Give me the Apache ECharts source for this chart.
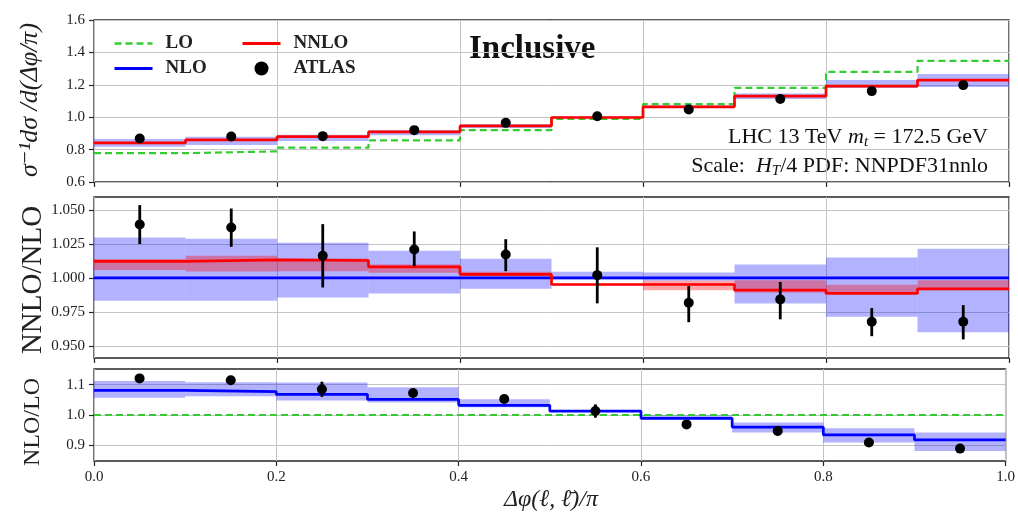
<!DOCTYPE html>
<html><head><meta charset="utf-8">
<script src="https://cdn.jsdelivr.net/npm/echarts@6/dist/echarts.min.js"></script>
<style>html,body{margin:0;padding:0;background:#fff}#c{width:1018px;height:515px}</style>
</head><body><div id="c"></div>
<script>
// ---- data ----
const edges = [0.0, 0.1, 0.2, 0.3, 0.4, 0.5, 0.6, 0.7, 0.8, 0.9, 1.0];
const centers = [0.05, 0.15, 0.25, 0.35, 0.45, 0.55, 0.65, 0.75, 0.85, 0.95];
const xTicks = [0.0, 0.2, 0.4, 0.6, 0.8, 1.0];

// top panel: normalised distribution
const loTop      = [0.778, 0.789, 0.812, 0.857, 0.920, 0.990, 1.081, 1.181, 1.280, 1.348];
const nnloTop    = [0.841, 0.860, 0.880, 0.909, 0.946, 0.998, 1.064, 1.130, 1.192, 1.229];
const nloTopLo   = [0.817, 0.829, 0.853, 0.889, 0.933, 0.995, 1.060, 1.112, 1.180, 1.186];
const nloTopHi   = [0.866, 0.880, 0.892, 0.921, 0.957, 1.006, 1.072, 1.146, 1.230, 1.266];
const atlasTop   = [0.868, 0.881, 0.883, 0.920, 0.965, 1.006, 1.048, 1.113, 1.161, 1.198];
const atlasTopErr= [0.012, 0.012, 0.020, 0.012, 0.011, 0.020, 0.013, 0.015, 0.011, 0.015];
const topTicks   = [0.6, 0.8, 1.0, 1.2, 1.4, 1.6];

// middle panel: NNLO/NLO
const nloMid       = [1, 1, 1, 1, 1, 1, 1, 1, 1, 1];
const nloMidLo     = [0.9832, 0.9832, 0.9856, 0.9886, 0.9920, 0.9989, 0.9980, 0.9812, 0.9714, 0.9599];
const nloMidHi     = [1.0299, 1.0289, 1.0259, 1.0200, 1.0141, 1.0045, 1.0041, 1.0100, 1.0151, 1.0215];
const nnloMid      = [1.0122, 1.0134, 1.0129, 1.0082, 1.0026, 0.9952, 0.9952, 0.9910, 0.9886, 0.9920];
const nnloMidLo    = [1.0058, 1.0048, 1.0050, 1.0038, 1.0013, 0.9945, 0.9910, 0.9893, 0.9886, 0.9910];
const nnloMidHi    = [1.0139, 1.0163, 1.0144, 1.0100, 1.0045, 0.9960, 0.9979, 0.9984, 0.9950, 0.9984];
const atlasMid     = [1.0394, 1.0372, 1.0163, 1.0210, 1.0173, 1.0021, 0.9817, 0.9842, 0.9677, 0.9677];
const atlasMidLo   = [1.0250, 1.0230, 0.9930, 1.0087, 1.0050, 0.9813, 0.9674, 0.9695, 0.9571, 0.9547];
const atlasMidHi   = [1.0537, 1.0512, 1.0397, 1.0343, 1.0286, 1.0226, 0.9940, 0.9971, 0.9778, 0.9800];
const midTicks     = [0.950, 0.975, 1.000, 1.025, 1.050];

// bottom panel: NLO/LO
const loBot      = [1, 1, 1, 1, 1, 1, 1, 1, 1, 1];
const nloBot     = [1.0813, 1.0770, 1.0680, 1.0516, 1.0320, 1.0130, 0.9890, 0.9600, 0.9340, 0.9180];
const nloBotLo   = [1.057, 1.062, 1.048, 1.041, 1.026, 1.010, 0.986, 0.942, 0.909, 0.881];
const nloBotHi   = [1.112, 1.108, 1.107, 1.092, 1.052, 1.016, 0.999, 0.975, 0.956, 0.942];
const atlasBot   = [1.121, 1.115, 1.085, 1.0725, 1.053, 1.013, 0.969, 0.947, 0.909, 0.889];
const atlasBotErr= [0.014, 0.014, 0.025, 0.014, 0.013, 0.022, 0.014, 0.014, 0.011, 0.014];
const botTicks   = [0.9, 1.0, 1.1];

// ---- helpers ----
const F = '"Liberation Serif", "DejaVu Serif", serif';
const GREEN = '#33cc33', BLUE = '#0000ff', RED = '#ff0000';
const BLUEBAND = 'rgba(0,0,255,0.30)', REDBAND = 'rgba(255,0,0,0.35)';

function stepData(vals) {
  const d = vals.map((v, i) => [edges[i], v]);
  d.push([edges[edges.length - 1], vals[vals.length - 1]]);
  return d;
}
function bandData(lo, hi) { return lo.map((l, i) => [edges[i], edges[i + 1], l, hi[i]]); }
function errSym(c, e) { return c.map((v, i) => [centers[i], v - e[i], v + e[i]]); }
function errAsym(lo, hi) { return lo.map((l, i) => [centers[i], l, hi[i]]); }
function pts(vals) { return vals.map((v, i) => [centers[i], v]); }

function bandSeries(g, lo, hi, color, z) {
  return {
    type: 'custom', xAxisIndex: g, yAxisIndex: g, z: z, silent: true, clip: true,
    data: bandData(lo, hi),
    encode: { x: [0, 1], y: [2, 3] },
    renderItem: function (params, api) {
      const p0 = api.coord([api.value(0), api.value(3)]);
      const p1 = api.coord([api.value(1), api.value(2)]);
      return { type: 'rect', shape: { x: p0[0], y: p0[1], width: p1[0] - p0[0], height: p1[1] - p0[1] },
               style: { fill: color } };
    }
  };
}
function errSeries(g, data) {
  return {
    type: 'custom', xAxisIndex: g, yAxisIndex: g, z: 8, silent: true, clip: true,
    data: data, encode: { x: 0, y: [1, 2] },
    renderItem: function (params, api) {
      const a = api.coord([api.value(0), api.value(1)]);
      const b = api.coord([api.value(0), api.value(2)]);
      return { type: 'line', shape: { x1: a[0], y1: a[1], x2: b[0], y2: b[1] },
               style: { stroke: '#000', lineWidth: 2.8 } };
    }
  };
}
function stepSeries(g, name, vals, color, dashed, z) {
  return {
    type: 'line', name: name, xAxisIndex: g, yAxisIndex: g, z: z, step: 'end',
    data: stepData(vals), symbol: 'none', silent: true, animation: false,
    lineStyle: { color: color, width: dashed ? 2.2 : 2.7, type: dashed ? [7, 4] : 'solid', cap: 'butt' },
    itemStyle: { color: color }
  };
}
function ptSeries(g, vals) {
  return {
    type: 'scatter', name: 'ATLAS', xAxisIndex: g, yAxisIndex: g, z: 9,
    data: pts(vals), symbol: 'circle', symbolSize: 10, itemStyle: { color: '#000', opacity: 1 }, silent: true
  };
}

const gridBase = { left: 94, right: 9, show: true, borderColor: '#262626', borderWidth: 1.3, backgroundColor: 'transparent' };
const tickStyle = { show: true, length: 5, lineStyle: { color: '#262626', width: 1.2 } };
const splitStyle = { show: true, lineStyle: { color: '#c4c4c4', width: 1 } };
const labelStyle = { fontFamily: F, fontSize: 15, color: '#222' };

function xAx(g) {
  return {
    gridIndex: g, type: 'value', min: 0, max: 1, interval: 0.2,
    axisLine: { show: false }, axisTick: tickStyle, splitLine: splitStyle,
    axisLabel: Object.assign({ show: g === 2, margin: 9, formatter: v => v.toFixed(1) }, labelStyle)
  };
}
function yAx(g, min, max, ticks, dec) {
  return {
    gridIndex: g, type: 'value', min: min, max: max,
    axisLine: { show: false },
    axisTick: Object.assign({ customValues: ticks }, tickStyle),
    splitLine: splitStyle,
    axisLabel: Object.assign({ customValues: ticks, margin: 9, formatter: v => v.toFixed(dec) }, labelStyle)
  };
}
const hideSym = { opacity: 0 };
const legText = { fontFamily: F, fontWeight: 'bold', fontSize: 19, color: '#222', padding: [0, 0, 0, 8] };

const option = {
  animation: false,
  backgroundColor: '#fff',
  grid: [
    Object.assign({ top: 20, height: 162 }, gridBase),
    Object.assign({ top: 197, height: 161 }, gridBase),
    Object.assign({ top: 369, height: 92 }, gridBase)
  ],
  xAxis: [xAx(0), xAx(1), xAx(2)],
  yAxis: [
    yAx(0, 0.6, 1.6, topTicks, 1),
    yAx(1, 0.941, 1.0597, midTicks, 3),
    yAx(2, 0.848, 1.152, botTicks, 1)
  ],
  legend: [
    { data: [{ name: 'LO', itemStyle: hideSym, lineStyle: { width: 2.6 } },
             { name: 'NLO', itemStyle: hideSym, lineStyle: { width: 3 } }],
      orient: 'vertical', left: 108, top: 29, itemWidth: 38, itemHeight: 14, itemGap: 6,
      selectedMode: false, textStyle: legText },
    { data: [{ name: 'NNLO', itemStyle: hideSym, lineStyle: { width: 3 } }, { name: 'ATLAS' }],
      orient: 'vertical', left: 236, top: 29, itemWidth: 38, itemHeight: 14, itemGap: 6,
      selectedMode: false, textStyle: legText }
  ],
  graphic: [
    { type: 'text', left: 469, top: 33, style: { text: 'Inclusive', font: 'bold 33px ' + F, fill: '#111' } },
    { type: 'text', x: 988, y: 137, style: {
        text: '{a|LHC 13 TeV }{i|m}{s|t}{a| = 172.5 GeV}', align: 'right', verticalAlign: 'middle',
        rich: { a: { font: '22px ' + F, fill: '#111' }, i: { font: 'italic 22px ' + F, fill: '#111' },
                s: { font: 'italic 15px ' + F, fill: '#111', padding: [10, 0, 0, 0] } } } },
    { type: 'text', x: 988, y: 166, style: {
        text: '{a|Scale:  }{i|H}{s|T}{a|/4 PDF: NNPDF31nnlo}', align: 'right', verticalAlign: 'middle',
        rich: { a: { font: '22px ' + F, fill: '#111' }, i: { font: 'italic 22px ' + F, fill: '#111' },
                s: { font: 'italic 15px ' + F, fill: '#111', padding: [10, 0, 0, 0] } } } },
    { type: 'text', x: 30, y: 100, rotation: Math.PI / 2, style: {
        text: 'σ⁻¹dσ /d(Δφ/π)', font: 'italic 26px ' + F, fill: '#222', align: 'center', verticalAlign: 'middle' } },
    { type: 'text', x: 33, y: 280, rotation: Math.PI / 2, style: {
        text: 'NNLO/NLO', font: '29px ' + F, fill: '#222', align: 'center', verticalAlign: 'middle' } },
    { type: 'text', x: 33, y: 422, rotation: Math.PI / 2, style: {
        text: 'NLO/LO', font: '24px ' + F, fill: '#222', align: 'center', verticalAlign: 'middle' } },
    { type: 'text', x: 551, y: 500, style: {
        text: 'Δφ(ℓ, ℓ̄)/π', font: 'italic 24px ' + F, fill: '#222', align: 'center', verticalAlign: 'middle' } }
  ],
  series: [
    // top
    bandSeries(0, nloTopLo, nloTopHi, BLUEBAND, 1),
    stepSeries(0, 'LO', loTop, GREEN, true, 3),
    stepSeries(0, 'NNLO', nnloTop, RED, false, 5),
    errSeries(0, errSym(atlasTop, atlasTopErr)),
    ptSeries(0, atlasTop),
    // middle
    bandSeries(1, nloMidLo, nloMidHi, BLUEBAND, 1),
    bandSeries(1, nnloMidLo, nnloMidHi, REDBAND, 2),
    stepSeries(1, 'NLO', nloMid, BLUE, false, 4),
    stepSeries(1, 'NNLO', nnloMid, RED, false, 5),
    errSeries(1, errAsym(atlasMidLo, atlasMidHi)),
    ptSeries(1, atlasMid),
    // bottom
    bandSeries(2, nloBotLo, nloBotHi, BLUEBAND, 1),
    stepSeries(2, 'LO', loBot, GREEN, true, 3),
    stepSeries(2, 'NLO', nloBot, BLUE, false, 4),
    errSeries(2, errSym(atlasBot, atlasBotErr)),
    ptSeries(2, atlasBot)
  ]
};
const chart = echarts.init(document.getElementById('c'));
chart.setOption(option);
</script>
</body></html>
